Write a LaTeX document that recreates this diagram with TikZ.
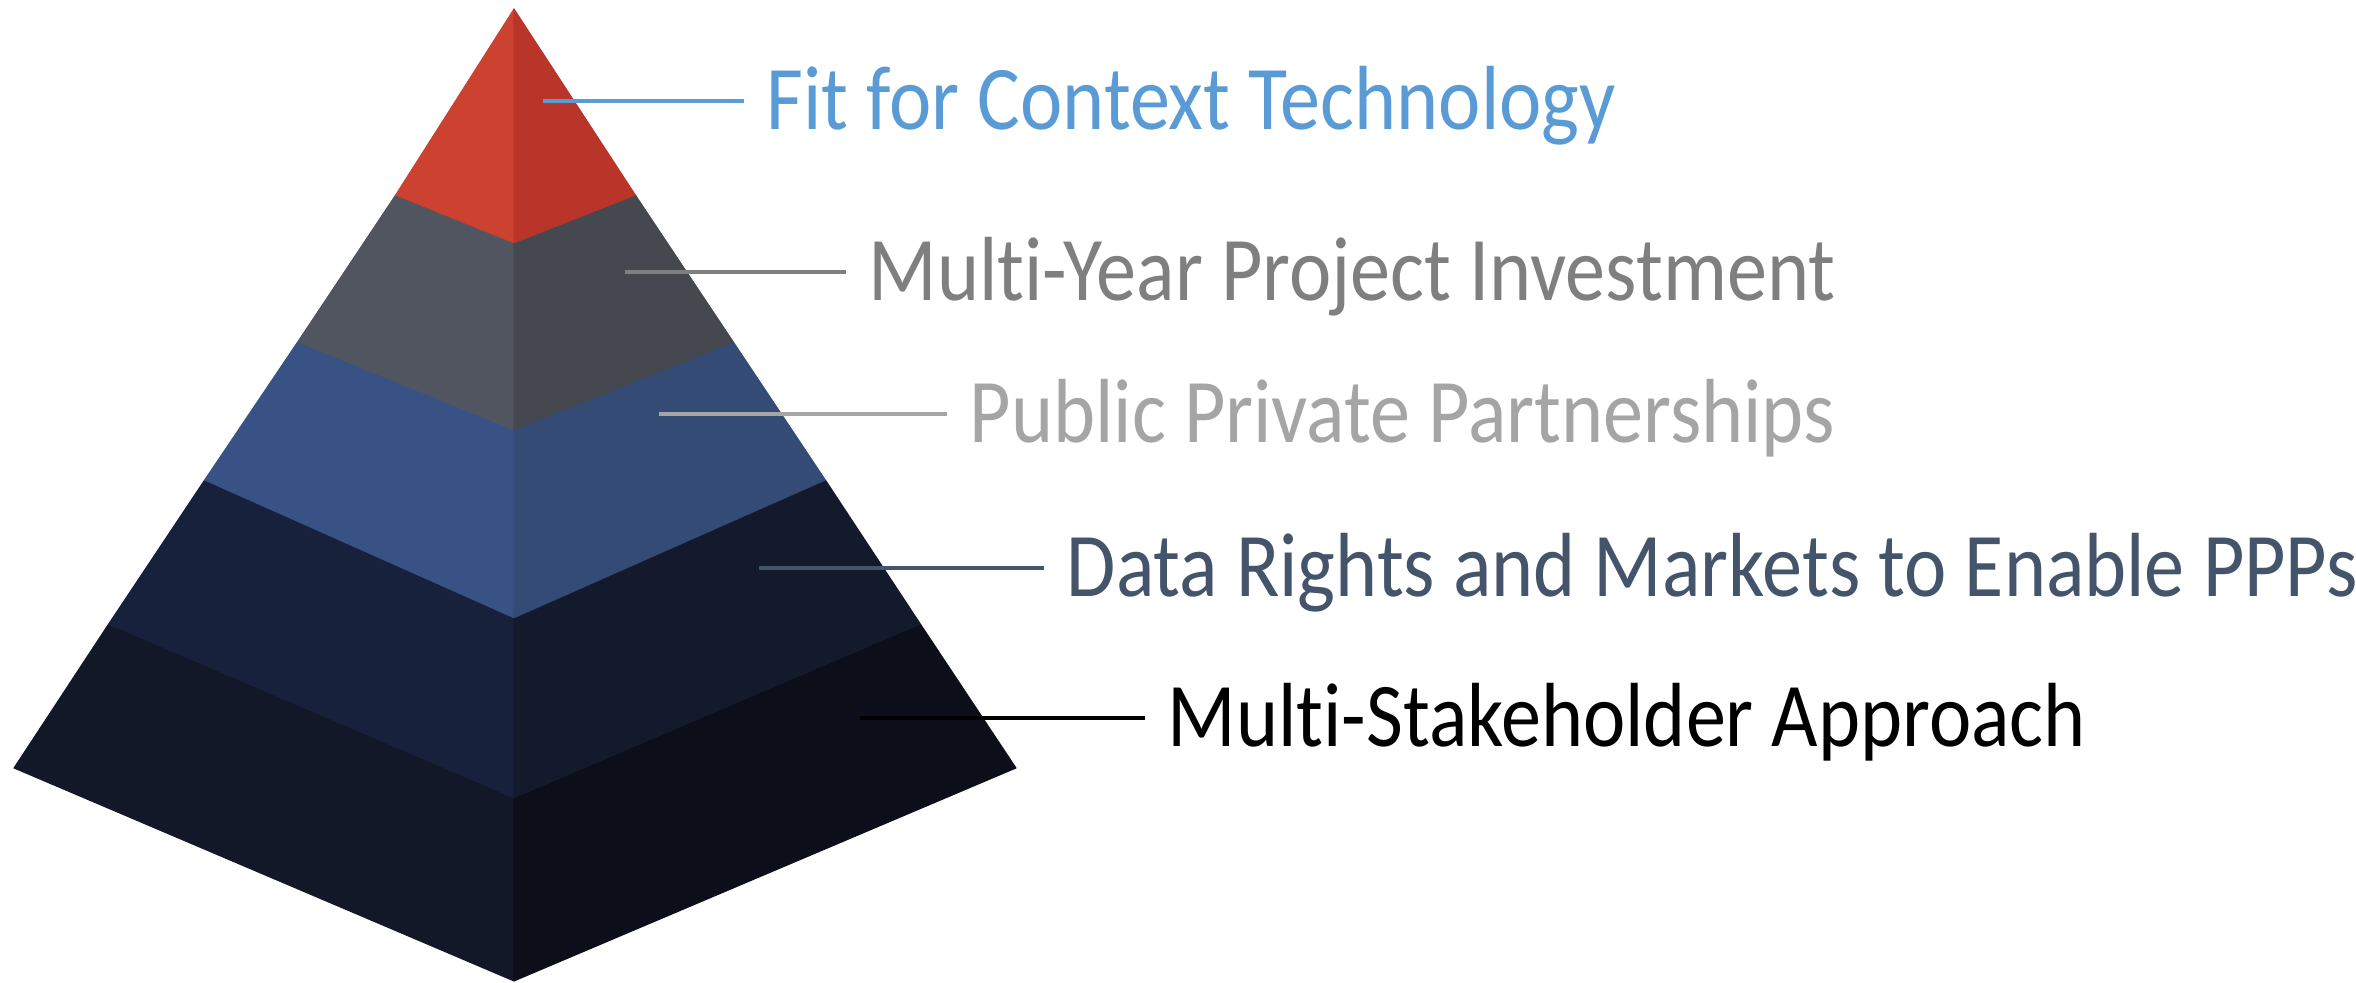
\documentclass[tikz,border=0pt]{standalone}
\usepackage{fontspec}
\setmainfont{Carlito}[FakeStretch=0.88,Ligatures={NoCommon}]
\definecolor{redL}{HTML}{CC4130}
\definecolor{redR}{HTML}{B9352A}
\definecolor{greyL}{HTML}{50555F}
\definecolor{greyR}{HTML}{45484F}
\definecolor{blueL}{HTML}{385286}
\definecolor{blueR}{HTML}{334B75}
\definecolor{navyL}{HTML}{18213B}
\definecolor{navyR}{HTML}{131A2B}
\definecolor{baseL}{HTML}{131829}
\definecolor{baseR}{HTML}{0C0F19}
\definecolor{cFit}{HTML}{5B9BD5}
\definecolor{cMY}{HTML}{7F7F7F}
\definecolor{cPub}{HTML}{A5A5A5}
\definecolor{cData}{HTML}{44546A}
\definecolor{cMS}{HTML}{000000}
\begin{document}
\begin{tikzpicture}[x=0.01cm,y=-0.01cm,
  face/.style={fill=#1,draw=#1,line width=0.3pt,line join=round},
  lbl/.style={anchor=base west,inner xsep=0.22cm,inner ysep=0pt,text=#1,font=\fontsize{25.9pt}{30pt}\selectfont},
  leader/.style={draw=#1,line width=0.9pt}]
\useasboundingbox (0,0) rectangle (2356,983);
% layer 1 (red)
\fill[face=redL] (514,9) -- (395,196) -- (514,244) -- cycle;
\fill[face=redR] (514,9) -- (514,244) -- (636,196) -- cycle;
% layer 2 (grey)
\fill[face=greyL] (395,196) -- (514,244) -- (514,431) -- (297,343) -- cycle;
\fill[face=greyR] (514,244) -- (636,196) -- (734,343) -- (514,431) -- cycle;
% layer 3 (blue)
\fill[face=blueL] (297,343) -- (514,431) -- (514,619) -- (204,481) -- cycle;
\fill[face=blueR] (514,431) -- (734,343) -- (826,481) -- (514,619) -- cycle;
% layer 4 (navy)
\fill[face=navyL] (204,481) -- (514,619) -- (514,799) -- (108,625) -- cycle;
\fill[face=navyR] (514,619) -- (826,481) -- (921,625) -- (514,799) -- cycle;
% layer 5 (base)
\fill[face=baseL] (108,625) -- (514,799) -- (514,981) -- (14,768) -- cycle;
\fill[face=baseR] (514,799) -- (921,625) -- (1016,768) -- (514,981) -- cycle;
% labels
\coordinate (c1) at (543,101);
\coordinate (c2) at (625,272);
\coordinate (c3) at (659,414);
\coordinate (c4) at (759,568);
\coordinate (c5) at (860,718);
\node[lbl=cFit] (t1) at (744,130) {Fit for Context Technology};
\node[lbl=cMY] (t2) at (846,301) {Multi-Year Project Investment};
\node[lbl=cPub] (t3) at (947,443) {Public Private Partnerships};
\node[lbl=cData] (t4) at (1044,597) {Data Rights and Markets to Enable PPPs};
\node[lbl=cMS] (t5) at (1145,747) {Multi-Stakeholder Approach};
\draw[leader=cFit] (c1) -- (t1.west |- c1);
\draw[leader=cMY] (c2) -- (t2.west |- c2);
\draw[leader=cPub] (c3) -- (t3.west |- c3);
\draw[leader=cData] (c4) -- (t4.west |- c4);
\draw[leader=cMS] (c5) -- (t5.west |- c5);
\end{tikzpicture}
\end{document}
